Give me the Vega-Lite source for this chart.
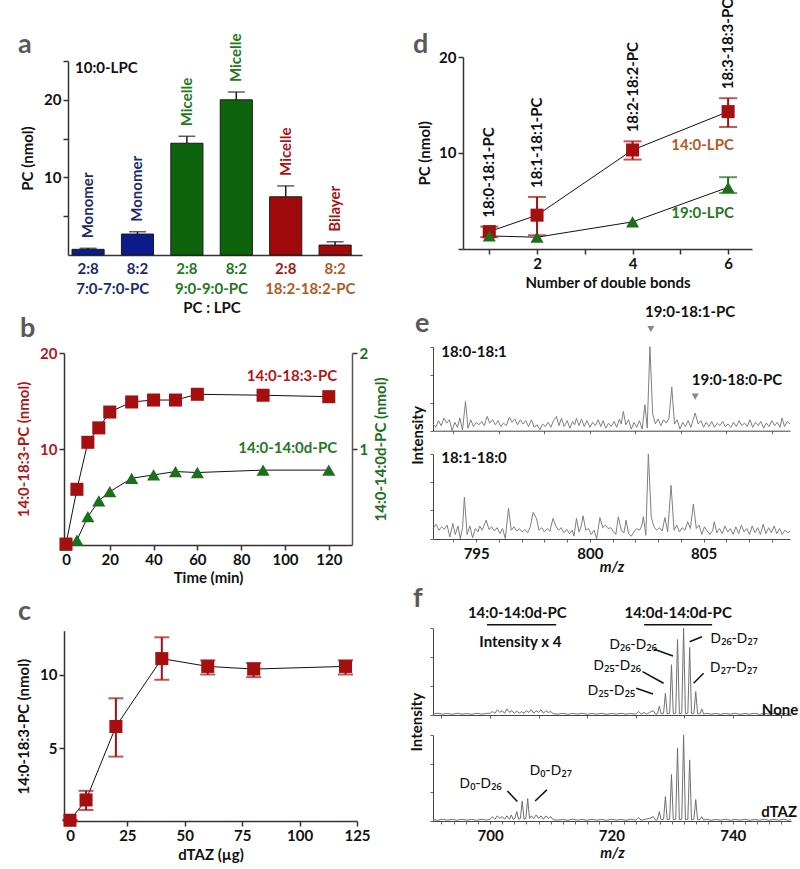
{
"$schema": "https://vega.github.io/schema/vega-lite/v6.json",
"autosize": {"type": "none"},
"padding": {"left": 64, "top": 55, "right": 736, "bottom": 814},
"config": {
 "font": "Lato",
 "view": {"stroke": null},
 "axis": {"labelFont": "Lato", "titleFont": "Lato", "labelFontWeight": "bold", "titleFontWeight": "bold", "labelFontSize": 15, "titleFontSize": 15, "labelColor": "#111", "titleColor": "#111", "domainColor": "#333", "tickColor": "#333", "domainWidth": 1.5, "tickWidth": 1.5, "tickSize": 5, "grid": false, "labelFlush": false, "labelOverlap": false, "labelPadding": 2, "titlePadding": 5},
 "text": {"font": "Lato", "fontWeight": "bold", "fontSize": 15}
},
"columns": 2,
"bounds": "flush",
"align": "each",
"spacing": {"row": 82, "column": 71},
"resolve": {"scale": {"color": "independent", "fill": "independent", "shape": "independent"}},
"datasets": {
 "one": [{}],
 "a": [
  {"bar": "b1", "grp": "7:0-7:0-PC", "pc": 0.73, "hi": 0.86, "state": "Monomer"},
  {"bar": "b2", "grp": "7:0-7:0-PC", "pc": 2.7, "hi": 3.0, "state": "Monomer"},
  {"bar": "b3", "grp": "9:0-9:0-PC", "pc": 14.4, "hi": 15.3, "state": "Micelle"},
  {"bar": "b4", "grp": "9:0-9:0-PC", "pc": 20.0, "hi": 21.0, "state": "Micelle"},
  {"bar": "b5", "grp": "18:2-18:2-PC", "pc": 7.5, "hi": 8.9, "state": "Micelle"},
  {"bar": "b6", "grp": "18:2-18:2-PC", "pc": 1.28, "hi": 1.7, "state": "Bilayer"}
 ],
 "d": [
  {"n": 1, "series": "14:0-LPC", "pc": 1.78, "lo": 1.2, "hi": 2.3, "lipid": "18:0-18:1-PC"},
  {"n": 2, "series": "14:0-LPC", "pc": 3.5, "lo": 1.4, "hi": 5.4, "lipid": "18:1-18:1-PC"},
  {"n": 4, "series": "14:0-LPC", "pc": 10.3, "lo": 9.3, "hi": 11.2, "lipid": "18:2-18:2-PC"},
  {"n": 6, "series": "14:0-LPC", "pc": 14.3, "lo": 12.7, "hi": 15.7, "lipid": "18:3-18:3-PC"},
  {"n": 1, "series": "19:0-LPC", "pc": 1.33, "lo": 1.33, "hi": 1.33, "lipid": ""},
  {"n": 2, "series": "19:0-LPC", "pc": 1.2, "lo": 1.2, "hi": 1.2, "lipid": ""},
  {"n": 4, "series": "19:0-LPC", "pc": 2.8, "lo": 2.8, "hi": 2.8, "lipid": ""},
  {"n": 6, "series": "19:0-LPC", "pc": 6.4, "lo": 5.8, "hi": 7.46, "lipid": ""}
 ],
 "br": [
  {"t": 0, "v": 0.1}, {"t": 5, "v": 5.8}, {"t": 10, "v": 10.7}, {"t": 15, "v": 12.2}, {"t": 20, "v": 13.85}, {"t": 30, "v": 14.9},
  {"t": 40, "v": 15.1}, {"t": 50, "v": 15.1}, {"t": 60, "v": 15.7}, {"t": 90, "v": 15.6}, {"t": 120, "v": 15.45}
 ],
 "bg": [
  {"t": 0, "v": 0}, {"t": 5, "v": 0.05}, {"t": 10, "v": 0.295}, {"t": 15, "v": 0.46}, {"t": 20, "v": 0.555}, {"t": 30, "v": 0.695},
  {"t": 40, "v": 0.73}, {"t": 50, "v": 0.765}, {"t": 60, "v": 0.755}, {"t": 90, "v": 0.78}, {"t": 120, "v": 0.78}
 ],
 "c": [
  {"x": 0, "v": 0.1, "lo": 0.1, "hi": 0.1},
  {"x": 7, "v": 1.48, "lo": 0.8, "hi": 2.1},
  {"x": 20, "v": 6.48, "lo": 4.43, "hi": 8.4},
  {"x": 40, "v": 11.1, "lo": 9.66, "hi": 12.55},
  {"x": 60, "v": 10.57, "lo": 10.02, "hi": 10.98},
  {"x": 80, "v": 10.39, "lo": 9.84, "hi": 10.8},
  {"x": 120, "v": 10.57, "lo": 10.02, "hi": 10.98}
 ],
 "eT": [
  {"m":793.10,"i":0.08},{"m":793.22,"i":0.04},{"m":793.34,"i":0.12},{"m":793.46,"i":0.06},{"m":793.58,"i":0.15},{"m":793.70,"i":0.09},
  {"m":793.82,"i":0.13},{"m":793.94,"i":0.00},{"m":794.06,"i":0.10},{"m":794.18,"i":0.04},{"m":794.28,"i":0.15},{"m":794.40,"i":0.01},
  {"m":794.53,"i":0.35},{"m":794.64,"i":0.03},{"m":794.76,"i":0.13},{"m":794.88,"i":0.05},{"m":795.00,"i":0.10},{"m":795.12,"i":0.07},
  {"m":795.24,"i":0.11},{"m":795.36,"i":0.06},{"m":795.48,"i":0.17},{"m":795.60,"i":0.09},{"m":795.72,"i":0.13},{"m":795.84,"i":0.07},
  {"m":795.96,"i":0.12},{"m":796.08,"i":0.05},{"m":796.20,"i":0.09},{"m":796.32,"i":0.06},{"m":796.46,"i":0.16},{"m":796.58,"i":0.10},
  {"m":796.70,"i":0.14},{"m":796.82,"i":0.07},{"m":796.94,"i":0.13},{"m":797.06,"i":0.08},{"m":797.18,"i":0.12},{"m":797.30,"i":0.05},
  {"m":797.43,"i":0.13},{"m":797.55,"i":0.04},{"m":797.68,"i":0.07},{"m":797.80,"i":0.01},{"m":797.92,"i":0.08},{"m":798.04,"i":0.05},
  {"m":798.16,"i":0.10},{"m":798.28,"i":0.04},{"m":798.40,"i":0.12},{"m":798.53,"i":0.17},{"m":798.64,"i":0.06},{"m":798.75,"i":0.15},
  {"m":798.87,"i":0.05},{"m":799.00,"i":0.12},{"m":799.12,"i":0.03},{"m":799.24,"i":0.11},{"m":799.33,"i":0.07},{"m":799.41,"i":0.15},
  {"m":799.52,"i":0.06},{"m":799.63,"i":0.14},{"m":799.75,"i":0.05},{"m":799.87,"i":0.12},{"m":800.00,"i":0.04},{"m":800.12,"i":0.10},
  {"m":800.24,"i":0.06},{"m":800.36,"i":0.13},{"m":800.48,"i":0.05},{"m":800.58,"i":0.12},{"m":800.70,"i":0.03},{"m":800.82,"i":0.09},
  {"m":800.94,"i":0.05},{"m":801.06,"i":0.11},{"m":801.18,"i":0.04},{"m":801.30,"i":0.14},{"m":801.38,"i":0.08},{"m":801.47,"i":0.23},
  {"m":801.58,"i":0.07},{"m":801.70,"i":0.13},{"m":801.82,"i":0.02},{"m":801.94,"i":0.10},{"m":802.06,"i":0.04},{"m":802.18,"i":0.12},
  {"m":802.30,"i":0.02},{"m":802.42,"i":0.31},{"m":802.52,"i":0.03},{"m":802.64,"i":1.00},{"m":802.76,"i":0.20},{"m":802.88,"i":0.08},
  {"m":803.00,"i":0.14},{"m":803.12,"i":0.06},{"m":803.24,"i":0.13},{"m":803.36,"i":0.09},{"m":803.48,"i":0.15},{"m":803.60,"i":0.52},
  {"m":803.72,"i":0.08},{"m":803.84,"i":0.13},{"m":803.96,"i":0.02},{"m":804.08,"i":0.10},{"m":804.20,"i":0.05},{"m":804.32,"i":0.12},
  {"m":804.44,"i":0.04},{"m":804.63,"i":0.21},{"m":804.76,"i":0.08},{"m":804.88,"i":0.12},{"m":805.00,"i":0.04},{"m":805.12,"i":0.10},
  {"m":805.24,"i":0.05},{"m":805.36,"i":0.11},{"m":805.48,"i":0.04},{"m":805.60,"i":0.09},{"m":805.72,"i":0.06},{"m":805.84,"i":0.11},
  {"m":805.96,"i":0.05},{"m":806.08,"i":0.08},{"m":806.20,"i":0.04},{"m":806.32,"i":0.10},{"m":806.44,"i":0.05},{"m":806.56,"i":0.12},
  {"m":806.68,"i":0.06},{"m":806.80,"i":0.09},{"m":806.92,"i":0.05},{"m":807.04,"i":0.13},{"m":807.16,"i":0.04},{"m":807.28,"i":0.10},
  {"m":807.40,"i":0.06},{"m":807.52,"i":0.11},{"m":807.64,"i":0.03},{"m":807.76,"i":0.09},{"m":807.88,"i":0.05},{"m":808.00,"i":0.12},
  {"m":808.12,"i":0.06},{"m":808.24,"i":0.10},{"m":808.36,"i":0.04},{"m":808.45,"i":0.15},{"m":808.56,"i":0.05},{"m":808.68,"i":0.11},
  {"m":808.80,"i":0.08}
 ],
 "eB": [
  {"m":793.10,"i":0.12},{"m":793.24,"i":0.17},{"m":793.36,"i":0.10},{"m":793.48,"i":0.14},{"m":793.60,"i":0.11},{"m":793.72,"i":0.16},
  {"m":793.84,"i":0.02},{"m":793.97,"i":0.18},{"m":794.08,"i":0.05},{"m":794.20,"i":0.15},{"m":794.30,"i":0.00},{"m":794.40,"i":0.13},
  {"m":794.48,"i":0.49},{"m":794.60,"i":0.05},{"m":794.72,"i":0.15},{"m":794.84,"i":0.01},{"m":794.96,"i":0.12},{"m":795.08,"i":0.08},
  {"m":795.15,"i":0.15},{"m":795.26,"i":0.10},{"m":795.44,"i":0.22},{"m":795.56,"i":0.11},{"m":795.68,"i":0.14},{"m":795.80,"i":0.09},
  {"m":795.92,"i":0.13},{"m":796.04,"i":0.06},{"m":796.16,"i":0.12},{"m":796.28,"i":0.00},{"m":796.42,"i":0.36},{"m":796.54,"i":0.10},
  {"m":796.66,"i":0.14},{"m":796.78,"i":0.09},{"m":796.90,"i":0.12},{"m":797.02,"i":0.08},{"m":797.14,"i":0.11},{"m":797.26,"i":0.07},
  {"m":797.38,"i":0.14},{"m":797.50,"i":0.31},{"m":797.65,"i":0.24},{"m":797.76,"i":0.10},{"m":797.88,"i":0.13},{"m":798.00,"i":0.08},
  {"m":798.12,"i":0.12},{"m":798.24,"i":0.09},{"m":798.38,"i":0.24},{"m":798.50,"i":0.15},{"m":798.62,"i":0.10},{"m":798.74,"i":0.13},
  {"m":798.86,"i":0.07},{"m":798.98,"i":0.11},{"m":799.10,"i":0.06},{"m":799.22,"i":0.10},{"m":799.30,"i":0.03},{"m":799.41,"i":0.24},
  {"m":799.52,"i":0.08},{"m":799.62,"i":0.15},{"m":799.70,"i":0.27},{"m":799.82,"i":0.10},{"m":799.94,"i":0.12},{"m":800.06,"i":0.05},
  {"m":800.18,"i":0.10},{"m":800.30,"i":0.00},{"m":800.44,"i":0.25},{"m":800.56,"i":0.13},{"m":800.68,"i":0.16},{"m":800.80,"i":0.12},
  {"m":800.92,"i":0.13},{"m":801.04,"i":0.08},{"m":801.14,"i":0.05},{"m":801.25,"i":0.26},{"m":801.38,"i":0.10},{"m":801.50,"i":0.07},
  {"m":801.59,"i":0.22},{"m":801.70,"i":0.06},{"m":801.82,"i":0.03},{"m":801.94,"i":0.08},{"m":802.06,"i":0.12},{"m":802.18,"i":0.10},
  {"m":802.28,"i":0.15},{"m":802.35,"i":0.26},{"m":802.46,"i":0.04},{"m":802.57,"i":1.00},{"m":802.70,"i":0.25},{"m":802.82,"i":0.14},
  {"m":802.94,"i":0.10},{"m":803.06,"i":0.13},{"m":803.18,"i":0.09},{"m":803.30,"i":0.25},{"m":803.42,"i":0.08},{"m":803.57,"i":0.63},
  {"m":803.70,"i":0.10},{"m":803.82,"i":0.16},{"m":803.94,"i":0.08},{"m":804.06,"i":0.13},{"m":804.18,"i":0.10},{"m":804.30,"i":0.20},
  {"m":804.42,"i":0.12},{"m":804.55,"i":0.41},{"m":804.68,"i":0.12},{"m":804.80,"i":0.16},{"m":804.92,"i":0.05},{"m":805.04,"i":0.14},
  {"m":805.16,"i":0.09},{"m":805.28,"i":0.05},{"m":805.40,"i":0.10},{"m":805.47,"i":0.20},{"m":805.58,"i":0.07},{"m":805.70,"i":0.12},
  {"m":805.82,"i":0.06},{"m":805.94,"i":0.15},{"m":806.06,"i":0.08},{"m":806.18,"i":0.12},{"m":806.30,"i":0.05},{"m":806.42,"i":0.14},
  {"m":806.54,"i":0.06},{"m":806.66,"i":0.16},{"m":806.78,"i":0.08},{"m":806.90,"i":0.12},{"m":807.02,"i":0.05},{"m":807.14,"i":0.15},
  {"m":807.26,"i":0.07},{"m":807.38,"i":0.13},{"m":807.50,"i":0.05},{"m":807.62,"i":0.17},{"m":807.74,"i":0.06},{"m":807.86,"i":0.13},
  {"m":807.98,"i":0.07},{"m":808.10,"i":0.15},{"m":808.22,"i":0.06},{"m":808.34,"i":0.12},{"m":808.46,"i":0.05},{"m":808.58,"i":0.10},
  {"m":808.70,"i":0.07},{"m":808.80,"i":0.09}
 ],
 "fT": [
  {"m":690.6,"i":0.012},{"m":691.4,"i":0.02},{"m":692.2,"i":0.01},{"m":693.0,"i":0.018},{"m":693.8,"i":0.008},{"m":694.6,"i":0.02},
  {"m":695.4,"i":0.01},{"m":696.2,"i":0.016},{"m":697.0,"i":0.008},{"m":697.8,"i":0.02},{"m":698.6,"i":0.01},{"m":699.4,"i":0.018},
  {"m":700.0,"i":0.02},{"m":700.4,"i":0.04},{"m":700.8,"i":0.02},{"m":701.2,"i":0.06},{"m":701.6,"i":0.03},{"m":702.0,"i":0.05},
  {"m":702.4,"i":0.02},{"m":702.8,"i":0.07},{"m":703.2,"i":0.03},{"m":703.6,"i":0.05},{"m":704.0,"i":0.02},{"m":704.4,"i":0.045},
  {"m":704.8,"i":0.02},{"m":705.2,"i":0.04},{"m":705.6,"i":0.02},{"m":706.0,"i":0.05},{"m":706.4,"i":0.03},{"m":706.8,"i":0.06},
  {"m":707.2,"i":0.02},{"m":707.6,"i":0.05},{"m":708.0,"i":0.03},{"m":708.4,"i":0.06},{"m":708.8,"i":0.02},{"m":709.2,"i":0.05},
  {"m":709.6,"i":0.03},{"m":710.0,"i":0.04},{"m":710.4,"i":0.015},{"m":711.2,"i":0.01},{"m":712.0,"i":0.02},{"m":712.8,"i":0.008},
  {"m":713.6,"i":0.018},{"m":714.4,"i":0.01},{"m":715.2,"i":0.02},{"m":716.0,"i":0.008},{"m":716.8,"i":0.018},{"m":717.6,"i":0.01},
  {"m":718.4,"i":0.02},{"m":719.2,"i":0.008},{"m":720.0,"i":0.018},{"m":720.8,"i":0.01},{"m":721.6,"i":0.02},{"m":722.4,"i":0.01},
  {"m":723.2,"i":0.018},{"m":724.0,"i":0.01},{"m":724.5,"i":0.04},{"m":724.9,"i":0.01},{"m":725.4,"i":0.03},{"m":725.8,"i":0.01},
  {"m":726.3,"i":0.03},{"m":726.9,"i":0.05},{"m":727.3,"i":0.01},{"m":727.6,"i":0.015},{"m":727.9,"i":0.10},{"m":728.2,"i":0.015},
  {"m":728.6,"i":0.02},{"m":728.9,"i":0.25},{"m":729.2,"i":0.015},{"m":729.6,"i":0.02},{"m":729.9,"i":0.58},{"m":730.2,"i":0.015},
  {"m":730.6,"i":0.02},{"m":730.9,"i":0.87},{"m":731.2,"i":0.015},{"m":731.6,"i":0.02},{"m":731.9,"i":1.0},{"m":732.2,"i":0.015},
  {"m":732.6,"i":0.02},{"m":732.9,"i":0.78},{"m":733.2,"i":0.015},{"m":733.6,"i":0.02},{"m":733.9,"i":0.27},{"m":734.2,"i":0.015},
  {"m":734.6,"i":0.015},{"m":734.9,"i":0.07},{"m":735.2,"i":0.01},{"m":735.7,"i":0.02},{"m":736.4,"i":0.01},{"m":737.2,"i":0.018},
  {"m":738.0,"i":0.008},{"m":738.8,"i":0.018},{"m":739.6,"i":0.01},{"m":740.4,"i":0.02},{"m":741.2,"i":0.008},{"m":742.0,"i":0.018},
  {"m":742.8,"i":0.01},{"m":743.6,"i":0.02},{"m":744.4,"i":0.008},{"m":745.2,"i":0.018},{"m":746.0,"i":0.01},{"m":746.8,"i":0.02},
  {"m":747.6,"i":0.008},{"m":748.4,"i":0.018},{"m":749.2,"i":0.01},{"m":749.6,"i":0.015}
 ],
 "fB": [
  {"m":690.6,"i":0.015},{"m":691.4,"i":0.008},{"m":692.2,"i":0.02},{"m":693.0,"i":0.01},{"m":693.8,"i":0.018},{"m":694.6,"i":0.008},
  {"m":695.4,"i":0.02},{"m":696.2,"i":0.01},{"m":697.0,"i":0.018},{"m":697.8,"i":0.008},{"m":698.6,"i":0.02},{"m":699.4,"i":0.01},
  {"m":700.0,"i":0.02},{"m":700.4,"i":0.05},{"m":700.8,"i":0.02},{"m":701.2,"i":0.06},{"m":701.6,"i":0.03},{"m":702.0,"i":0.05},
  {"m":702.4,"i":0.02},{"m":702.8,"i":0.06},{"m":703.2,"i":0.02},{"m":703.5,"i":0.07},{"m":703.8,"i":0.02},{"m":704.1,"i":0.03},
  {"m":704.4,"i":0.11},{"m":704.7,"i":0.02},{"m":705.0,"i":0.03},{"m":705.3,"i":0.23},{"m":705.6,"i":0.02},{"m":705.9,"i":0.03},
  {"m":706.2,"i":0.26},{"m":706.5,"i":0.03},{"m":706.8,"i":0.06},{"m":707.2,"i":0.03},{"m":707.6,"i":0.07},{"m":708.0,"i":0.03},
  {"m":708.4,"i":0.06},{"m":708.8,"i":0.02},{"m":709.2,"i":0.06},{"m":709.6,"i":0.03},{"m":710.0,"i":0.05},{"m":710.4,"i":0.015},
  {"m":711.2,"i":0.01},{"m":712.0,"i":0.018},{"m":712.8,"i":0.008},{"m":713.6,"i":0.02},{"m":714.4,"i":0.01},{"m":715.2,"i":0.018},
  {"m":716.0,"i":0.008},{"m":716.8,"i":0.02},{"m":717.6,"i":0.01},{"m":718.4,"i":0.018},{"m":719.2,"i":0.008},{"m":720.0,"i":0.02},
  {"m":720.8,"i":0.01},{"m":721.6,"i":0.018},{"m":722.4,"i":0.008},{"m":723.2,"i":0.02},{"m":724.0,"i":0.01},{"m":724.5,"i":0.04},
  {"m":724.9,"i":0.01},{"m":725.6,"i":0.02},{"m":726.3,"i":0.03},{"m":726.9,"i":0.05},{"m":727.3,"i":0.01},{"m":727.6,"i":0.015},
  {"m":727.9,"i":0.11},{"m":728.2,"i":0.015},{"m":728.6,"i":0.02},{"m":728.9,"i":0.285},{"m":729.2,"i":0.015},{"m":729.6,"i":0.02},
  {"m":729.9,"i":0.54},{"m":730.2,"i":0.015},{"m":730.6,"i":0.02},{"m":730.9,"i":0.85},{"m":731.2,"i":0.015},{"m":731.6,"i":0.02},
  {"m":731.9,"i":1.0},{"m":732.2,"i":0.015},{"m":732.6,"i":0.02},{"m":732.9,"i":0.71},{"m":733.2,"i":0.015},{"m":733.6,"i":0.02},
  {"m":733.9,"i":0.25},{"m":734.2,"i":0.015},{"m":734.6,"i":0.015},{"m":734.9,"i":0.05},{"m":735.2,"i":0.01},{"m":735.7,"i":0.02},
  {"m":736.4,"i":0.008},{"m":737.2,"i":0.018},{"m":738.0,"i":0.01},{"m":738.8,"i":0.02},{"m":739.6,"i":0.008},{"m":740.4,"i":0.018},
  {"m":741.2,"i":0.01},{"m":742.0,"i":0.02},{"m":742.8,"i":0.008},{"m":743.6,"i":0.018},{"m":744.4,"i":0.01},{"m":745.2,"i":0.02},
  {"m":746.0,"i":0.008},{"m":746.8,"i":0.018},{"m":747.6,"i":0.01},{"m":748.4,"i":0.02},{"m":749.2,"i":0.008},{"m":749.6,"i":0.015}
 ]
},
"concat": [
 {
  "width": 298, "height": 200,
  "layer": [
   {
    "layer": [
     {"data": {"name": "a"},
      "mark": {"type": "bar", "stroke": "#1a1a1a", "strokeWidth": 1},
      "encoding": {
       "x": {"field": "bar", "type": "nominal", "scale": {"range": [4, 298], "paddingInner": 0.35, "paddingOuter": 0.15, "align": 0.27},
             "axis": {"title": null, "ticks": false, "domainWidth": 1.5, "labelAngle": 0, "labelPadding": 6,
                      "labelExpr": "indexof(['b1','b3','b5'], datum.value) >= 0 ? '2:8' : '8:2'",
                      "labelColor": {"condition": [{"test": "datum.value == 'b1' || datum.value == 'b2'", "value": "#1c2c6b"}, {"test": "datum.value == 'b3' || datum.value == 'b4'", "value": "#24781e"}, {"test": "datum.value == 'b5'", "value": "#a81515"}], "value": "#b35a1f"}}},
       "y": {"field": "pc", "type": "quantitative", "scale": {"domain": [0, 25], "range": [200, 6], "nice": false},
             "axis": {"title": "PC (nmol)", "values": [5, 10, 15, 20, 25], "labelExpr": "datum.value == 10 || datum.value == 20 ? datum.label : ''", "offset": -4, "titlePadding": 8}},
       "color": {"field": "grp", "type": "nominal", "scale": {"domain": ["7:0-7:0-PC", "9:0-9:0-PC", "18:2-18:2-PC"], "range": ["#0b1b8c", "#0d640d", "#a00a0a"]}, "legend": null}
      }},
     {"data": {"name": "a"},
      "mark": {"type": "rule", "strokeWidth": 1.5, "color": "#1a1a1a"},
      "encoding": {"x": {"field": "bar", "type": "nominal"}, "y": {"field": "pc", "type": "quantitative"}, "y2": {"field": "hi"}}},
     {"data": {"name": "a"},
      "mark": {"type": "tick", "orient": "horizontal", "size": 17, "thickness": 1.5, "color": "#1a1a1a"},
      "encoding": {"x": {"field": "bar", "type": "nominal"}, "y": {"field": "hi", "type": "quantitative"}}},
     {"data": {"name": "a"},
      "mark": {"type": "text", "angle": 270, "align": "left", "baseline": "middle", "dx": 10, "fontSize": 15},
      "encoding": {"x": {"field": "bar", "type": "nominal"}, "y": {"field": "hi", "type": "quantitative"}, "text": {"field": "state"},
                   "fill": {"field": "grp", "type": "nominal", "scale": {"domain": ["7:0-7:0-PC", "9:0-9:0-PC", "18:2-18:2-PC"], "range": ["#1c2c6b", "#24781e", "#a81515"]}, "legend": null}}},
     {"data": {"name": "one"},
      "mark": {"type": "text", "align": "left", "baseline": "middle", "dx": -13, "fontSize": 15, "color": "#111"},
      "encoding": {"x": {"datum": "b1"}, "y": {"datum": 24.1}, "text": {"value": "10:0-LPC"}}},
     {"data": {"name": "one"},
      "mark": {"type": "text", "align": "left", "baseline": "alphabetic", "dx": -70, "dy": -8, "fontSize": 27, "color": "#595959"},
      "encoding": {"x": {"datum": "b1"}, "y": {"datum": 25}, "text": {"value": "a"}}}
    ]
   },
   {
    "data": {"name": "a"},
    "mark": {"type": "bar", "opacity": 0},
    "encoding": {
     "x": {"field": "grp", "type": "nominal", "sort": null, "scale": {"range": [-0.7, 295.7], "paddingInner": 0, "paddingOuter": 0},
           "axis": {"orient": "bottom", "offset": 22, "domain": false, "ticks": false, "labelAngle": 0, "labelPadding": 4, "title": "PC : LPC", "titlePadding": 4,
                    "labelColor": {"condition": [{"test": "datum.value == '7:0-7:0-PC'", "value": "#1c2c6b"}, {"test": "datum.value == '9:0-9:0-PC'", "value": "#24781e"}], "value": "#b35a1f"}}}
    }
   }
  ],
  "resolve": {"scale": {"x": "independent"}}
 },
 {
  "width": 319, "height": 194,
  "layer": [
   {"data": {"name": "d"},
    "mark": {"type": "line", "color": "#111", "strokeWidth": 1},
    "encoding": {
     "x": {"field": "n", "type": "quantitative", "scale": {"domain": [0.45, 6.5], "range": [30, 319], "nice": false, "zero": false},
           "axis": {"values": [1, 2, 3, 4, 5, 6], "labelExpr": "datum.value % 2 == 0 ? datum.label : ''", "title": "Number of double bonds", "titlePadding": 4}},
     "y": {"field": "pc", "type": "quantitative", "scale": {"domain": [0, 20], "range": [193.7, 2], "nice": false},
           "axis": {"values": [0, 10, 20], "labelExpr": "datum.value > 0 ? datum.label : ''", "offset": -30, "title": "PC (nmol)", "titlePadding": 6}},
     "detail": {"field": "series"}
    }},
   {"data": {"name": "d"},
    "transform": [{"filter": "datum.hi > datum.pc"}],
    "mark": {"type": "rule", "strokeWidth": 2},
    "encoding": {"x": {"field": "n", "type": "quantitative"}, "y": {"field": "lo", "type": "quantitative"}, "y2": {"field": "hi"},
                 "color": {"field": "series", "type": "nominal", "scale": {"domain": ["14:0-LPC", "19:0-LPC"], "range": ["#a50f0f", "#1d6e1d"]}, "legend": null}}},
   {"data": {"name": "d"},
    "transform": [{"filter": "datum.hi > datum.pc"}],
    "mark": {"type": "tick", "orient": "horizontal", "size": 18, "thickness": 2},
    "encoding": {"x": {"field": "n", "type": "quantitative"}, "y": {"field": "hi", "type": "quantitative"},
                 "color": {"field": "series", "type": "nominal", "scale": {"domain": ["14:0-LPC", "19:0-LPC"], "range": ["#a50f0f", "#1d6e1d"]}, "legend": null}}},
   {"data": {"name": "d"},
    "transform": [{"filter": "datum.hi > datum.pc"}],
    "mark": {"type": "tick", "orient": "horizontal", "size": 18, "thickness": 2},
    "encoding": {"x": {"field": "n", "type": "quantitative"}, "y": {"field": "lo", "type": "quantitative"},
                 "color": {"field": "series", "type": "nominal", "scale": {"domain": ["14:0-LPC", "19:0-LPC"], "range": ["#a50f0f", "#1d6e1d"]}, "legend": null}}},
   {"data": {"name": "d"},
    "mark": {"type": "point", "filled": true, "opacity": 1, "size": 170},
    "encoding": {"x": {"field": "n", "type": "quantitative"}, "y": {"field": "pc", "type": "quantitative"},
                 "color": {"field": "series", "type": "nominal", "scale": {"domain": ["14:0-LPC", "19:0-LPC"], "range": ["#a50f0f", "#1d6e1d"]}, "legend": null},
                 "shape": {"field": "series", "type": "nominal", "scale": {"domain": ["14:0-LPC", "19:0-LPC"], "range": ["square", "triangle-up"]}, "legend": null}}},
   {"data": {"name": "d"},
    "transform": [{"filter": "datum.series == '14:0-LPC'"}],
    "mark": {"type": "text", "angle": 270, "align": "left", "baseline": "middle", "dx": 9, "fontSize": 15, "color": "#111"},
    "encoding": {"x": {"field": "n", "type": "quantitative"}, "y": {"field": "hi", "type": "quantitative"}, "text": {"field": "lipid"}}},
   {"data": {"name": "one"},
    "mark": {"type": "text", "align": "right", "baseline": "middle", "fontSize": 15, "color": "#b35a1f"},
    "encoding": {"x": {"datum": 6.12}, "y": {"datum": 10.84}, "text": {"value": "14:0-LPC"}}},
   {"data": {"name": "one"},
    "mark": {"type": "text", "align": "right", "baseline": "middle", "fontSize": 15, "color": "#24781e"},
    "encoding": {"x": {"datum": 6.12}, "y": {"datum": 3.73}, "text": {"value": "19:0-LPC"}}},
   {"data": {"name": "one"},
    "mark": {"type": "text", "align": "left", "baseline": "alphabetic", "dx": -50, "dy": -4, "fontSize": 27, "color": "#595959"},
    "encoding": {"x": {"datum": 0.45}, "y": {"datum": 20}, "text": {"value": "d"}}}
  ]
 },
 {
  "width": 288, "height": 208,
  "layer": [
   {
    "layer": [
     {"data": {"name": "bg"},
      "mark": {"type": "line", "color": "#111", "strokeWidth": 1},
      "encoding": {
       "x": {"field": "t", "type": "quantitative", "scale": {"domain": [-0.9, 130.6], "nice": false, "zero": false},
             "axis": {"values": [0, 20, 40, 60, 80, 100, 120], "title": "Time (min)", "titlePadding": 3}},
       "y": {"field": "v", "type": "quantitative", "scale": {"domain": [0, 2], "range": [208, 16], "nice": false},
             "axis": {"orient": "right", "values": [1, 2], "format": "d", "title": "14:0-14:0d-PC (nmol)", "titleAngle": 270, "titleBaseline": "top", "labelColor": "#1d6e1d", "titleColor": "#1d6e1d", "domainColor": "#555", "titlePadding": 6}}
      }},
     {"data": {"name": "bg"},
      "mark": {"type": "point", "shape": "triangle-up", "filled": true, "size": 170, "color": "#1d6e1d", "opacity": 1},
      "encoding": {"x": {"field": "t", "type": "quantitative"}, "y": {"field": "v", "type": "quantitative"}}},
     {"data": {"name": "one"},
      "mark": {"type": "text", "align": "right", "baseline": "middle", "fontSize": 15, "color": "#24781e"},
      "encoding": {"x": {"datum": 123.8}, "y": {"datum": 1.01}, "text": {"value": "14:0-14:0d-PC"}}}
    ]
   },
   {
    "layer": [
     {"data": {"name": "br"},
      "mark": {"type": "line", "color": "#111", "strokeWidth": 1},
      "encoding": {
       "x": {"field": "t", "type": "quantitative"},
       "y": {"field": "v", "type": "quantitative", "scale": {"domain": [0, 20], "range": [208, 16], "nice": false},
             "axis": {"orient": "left", "values": [10, 20], "title": "14:0-18:3-PC (nmol)", "labelColor": "#b01818", "titleColor": "#b01818", "titlePadding": 8}}
      }},
     {"data": {"name": "br"},
      "mark": {"type": "point", "shape": "square", "filled": true, "size": 170, "color": "#a50f0f", "opacity": 1},
      "encoding": {"x": {"field": "t", "type": "quantitative"}, "y": {"field": "v", "type": "quantitative"}}},
     {"data": {"name": "one"},
      "mark": {"type": "text", "align": "right", "baseline": "middle", "fontSize": 15, "color": "#b01818"},
      "encoding": {"x": {"datum": 123.8}, "y": {"datum": 17.6}, "text": {"value": "14:0-18:3-PC"}}},
     {"data": {"name": "one"},
      "mark": {"type": "text", "align": "left", "baseline": "alphabetic", "dx": -44, "dy": -16, "fontSize": 27, "color": "#595959"},
      "encoding": {"x": {"datum": -0.9}, "y": {"datum": 20}, "text": {"value": "b"}}}
    ]
   }
  ],
  "resolve": {"scale": {"y": "independent"}, "axis": {"y": "independent"}}
 },
 {
  "width": 357, "height": 202,
  "layer": [
   {
    "layer": [
     {"data": {"name": "eT"},
      "mark": {"type": "line", "color": "#808080", "strokeWidth": 1},
      "encoding": {
       "x": {"field": "m", "type": "quantitative", "scale": {"domain": [793.1, 808.8], "nice": false, "zero": false},
             "axis": {"orient": "bottom", "offset": -108.3, "labels": false, "title": null, "values": [794, 795, 796, 797, 798, 799, 800, 801, 802, 803, 804, 805, 806, 807, 808], "tickSize": 3, "tickWidth": 1, "domainWidth": 1, "domainColor": "#444", "tickColor": "#666"}},
       "y": {"field": "i", "type": "quantitative", "scale": {"domain": [0, 1], "range": [93.7, 9.7], "nice": false},
             "axis": {"orient": "left", "labels": false, "title": null, "values": [0, 0.167, 0.333, 0.5, 0.667, 0.833, 1], "tickSize": 3, "tickWidth": 1, "domainWidth": 1, "domainColor": "#444", "tickColor": "#666"}}
      }},
     {"data": {"name": "one"},
      "mark": {"type": "text", "align": "left", "baseline": "middle", "fontSize": 15, "color": "#111"},
      "encoding": {"x": {"datum": 802.42}, "y": {"datum": 1.41}, "text": {"value": "19:0-18:1-PC"}}},
     {"data": {"name": "one"},
      "mark": {"type": "text", "align": "left", "baseline": "middle", "fontSize": 15, "color": "#111"},
      "encoding": {"x": {"datum": 804.48}, "y": {"datum": 0.6}, "text": {"value": "19:0-18:0-PC"}}},
     {"data": {"name": "one"},
      "mark": {"type": "text", "align": "left", "baseline": "middle", "fontSize": 15, "color": "#111"},
      "encoding": {"x": {"datum": 793.46}, "y": {"datum": 0.94}, "text": {"value": "18:0-18:1"}}},
     {"data": {"name": "one"},
      "mark": {"type": "point", "shape": "triangle-down", "filled": true, "size": 50, "color": "#888", "opacity": 1},
      "encoding": {"x": {"datum": 802.68}, "y": {"datum": 1.21}}},
     {"data": {"name": "one"},
      "mark": {"type": "point", "shape": "triangle-down", "filled": true, "size": 50, "color": "#888", "opacity": 1},
      "encoding": {"x": {"datum": 804.63}, "y": {"datum": 0.405}}},
     {"data": {"name": "one"},
      "mark": {"type": "text", "align": "left", "baseline": "alphabetic", "dx": -18, "dy": -14.7, "fontSize": 27, "color": "#595959"},
      "encoding": {"x": {"datum": 793.1}, "y": {"datum": 1}, "text": {"value": "e"}}}
    ]
   },
   {
    "layer": [
     {"data": {"name": "eB"},
      "mark": {"type": "line", "color": "#808080", "strokeWidth": 1},
      "encoding": {
       "x": {"field": "m", "type": "quantitative", "scale": {"domain": [793.1, 808.8], "nice": false, "zero": false},
             "axis": {"orient": "bottom", "values": [795, 800, 805], "title": "m/z", "titleFontStyle": "italic", "titlePadding": -2, "labelPadding": 4, "tickSize": 3, "tickWidth": 1, "domainWidth": 1, "domainColor": "#444", "tickColor": "#666"}},
       "y": {"field": "i", "type": "quantitative", "scale": {"domain": [0, 1], "range": [201.7, 117], "nice": false},
             "axis": {"orient": "left", "labels": false, "title": "Intensity", "titleX": -8, "titleY": 98, "values": [0, 0.167, 0.333, 0.5, 0.667, 0.833, 1], "tickSize": 3, "tickWidth": 1, "domainWidth": 1, "domainColor": "#444", "tickColor": "#666"}}
      }},
     {"data": {"name": "one"},
      "mark": {"type": "text", "align": "left", "baseline": "middle", "fontSize": 15, "color": "#111"},
      "encoding": {"x": {"datum": 793.46}, "y": {"datum": 0.953}, "text": {"value": "18:1-18:0"}}}
    ]
   },
   {
    "data": {"name": "one"},
    "mark": {"type": "text", "text": ""},
    "encoding": {
     "x": {"datum": 800, "type": "quantitative",
           "axis": {"orient": "bottom", "values": [794, 796, 797, 798, 799, 801, 802, 803, 804, 806, 807, 808], "labels": false, "domain": false, "title": null, "tickSize": 3, "tickWidth": 1, "tickColor": "#666"}}
    }
   }
  ],
  "resolve": {"scale": {"y": "independent"}, "axis": {"x": "independent", "y": "independent"}}
 },
 {
  "width": 293, "height": 194,
  "layer": [
   {"data": {"name": "c"},
    "mark": {"type": "line", "color": "#111", "strokeWidth": 1},
    "encoding": {
     "x": {"field": "x", "type": "quantitative", "scale": {"domain": [-2.6, 125], "nice": false, "zero": false},
           "axis": {"values": [0, 25, 50, 75, 100, 125], "title": "dTAZ (µg)", "titlePadding": 4}},
     "y": {"field": "v", "type": "quantitative", "scale": {"domain": [0, 13], "range": [194.7, 3.7], "nice": false},
           "axis": {"values": [5, 10], "title": "14:0-18:3-PC (nmol)", "titlePadding": 8}}
    }},
   {"data": {"name": "c"},
    "mark": {"type": "rule", "strokeWidth": 2, "color": "#a50f0f"},
    "encoding": {"x": {"field": "x", "type": "quantitative"}, "y": {"field": "lo", "type": "quantitative"}, "y2": {"field": "hi"}}},
   {"data": {"name": "c"},
    "mark": {"type": "tick", "orient": "horizontal", "size": 15, "thickness": 2, "color": "#a50f0f"},
    "encoding": {"x": {"field": "x", "type": "quantitative"}, "y": {"field": "hi", "type": "quantitative"}}},
   {"data": {"name": "c"},
    "mark": {"type": "tick", "orient": "horizontal", "size": 15, "thickness": 2, "color": "#a50f0f"},
    "encoding": {"x": {"field": "x", "type": "quantitative"}, "y": {"field": "lo", "type": "quantitative"}}},
   {"data": {"name": "c"},
    "mark": {"type": "point", "shape": "square", "filled": true, "size": 170, "color": "#a50f0f", "opacity": 1},
    "encoding": {"x": {"field": "x", "type": "quantitative"}, "y": {"field": "v", "type": "quantitative"}}},
   {"data": {"name": "one"},
    "mark": {"type": "text", "align": "left", "baseline": "alphabetic", "dx": -46, "dy": -10.7, "fontSize": 27, "color": "#595959"},
    "encoding": {"x": {"datum": -2.6}, "y": {"datum": 13}, "text": {"value": "c"}}}
  ]
 },
 {
  "width": 358, "height": 194,
  "layer": [
   {
    "layer": [
     {"data": {"name": "fT"},
      "mark": {"type": "line", "color": "#707070", "strokeWidth": 1},
      "encoding": {
       "x": {"field": "m", "type": "quantitative", "scale": {"domain": [690.6, 749.6], "nice": false, "zero": false},
             "axis": {"orient": "bottom", "offset": -106, "labels": false, "title": null, "values": [692, 694, 696, 698, 700, 702, 704, 706, 708, 710, 712, 714, 716, 718, 720, 722, 724, 726, 728, 730, 732, 734, 736, 738, 740, 742, 744, 746, 748], "tickSize": 3, "tickWidth": 1, "domainWidth": 1, "domainColor": "#444", "tickColor": "#666"}},
       "y": {"field": "i", "type": "quantitative", "scale": {"domain": [0, 1], "range": [88, 1.3], "nice": false},
             "axis": {"orient": "left", "labels": false, "title": null, "values": [0, 0.167, 0.333, 0.5, 0.667, 0.833, 1], "tickSize": 3, "tickWidth": 1, "domainWidth": 1, "domainColor": "#444", "tickColor": "#666"}}
      }},
     {"data": {"values": [
        {"m": 727.06, "i": 0.758, "m2": 730.15, "i2": 0.68},
        {"m": 725.13, "i": 0.5, "m2": 728.6, "i2": 0.366},
        {"m": 724.09, "i": 0.308, "m2": 726.85, "i2": 0.242},
        {"m": 732.89, "i": 0.845, "m2": 734.93, "i2": 0.903},
        {"m": 733.55, "i": 0.366, "m2": 735.2, "i2": 0.481},
        {"m": 699.5, "i": 1.04, "m2": 710.9, "i2": 1.04},
        {"m": 725.4, "i": 1.04, "m2": 736.6, "i2": 1.04}
      ]},
      "mark": {"type": "rule", "strokeWidth": 1.5, "color": "#111"},
      "encoding": {"x": {"field": "m", "type": "quantitative"}, "x2": {"field": "m2"}, "y": {"field": "i", "type": "quantitative"}, "y2": {"field": "i2"}}},
     {"data": {"values": [
        {"m": 727.5, "i": 0.82, "lab": "D₂₆-D₂₆"},
        {"m": 724.87, "i": 0.577, "lab": "D₂₅-D₂₆"},
        {"m": 723.93, "i": 0.288, "lab": "D₂₅-D₂₅"}
      ]},
      "mark": {"type": "text", "align": "right", "baseline": "middle", "font": "Noto Sans", "fontWeight": "normal", "fontSize": 15, "color": "#111"},
      "encoding": {"x": {"field": "m", "type": "quantitative"}, "y": {"field": "i", "type": "quantitative"}, "text": {"field": "lab"}}},
     {"data": {"values": [
        {"m": 736.3, "i": 0.885, "lab": "D₂₆-D₂₇"},
        {"m": 736.2, "i": 0.557, "lab": "D₂₇-D₂₇"}
      ]},
      "mark": {"type": "text", "align": "left", "baseline": "middle", "font": "Noto Sans", "fontWeight": "normal", "fontSize": 15, "color": "#111"},
      "encoding": {"x": {"field": "m", "type": "quantitative"}, "y": {"field": "i", "type": "quantitative"}, "text": {"field": "lab"}}},
     {"data": {"name": "one"},
      "mark": {"type": "text", "align": "center", "baseline": "middle", "fontSize": 15, "color": "#111"},
      "encoding": {"x": {"datum": 704.5}, "y": {"datum": 1.176}, "text": {"value": "14:0-14:0d-PC"}}},
     {"data": {"name": "one"},
      "mark": {"type": "text", "align": "center", "baseline": "middle", "fontSize": 15, "color": "#111"},
      "encoding": {"x": {"datum": 731.0}, "y": {"datum": 1.176}, "text": {"value": "14:0d-14:0d-PC"}}},
     {"data": {"name": "one"},
      "mark": {"type": "text", "align": "center", "baseline": "middle", "fontSize": 15, "color": "#111"},
      "encoding": {"x": {"datum": 705.0}, "y": {"datum": 0.845}, "text": {"value": "Intensity x 4"}}},
     {"data": {"name": "one"},
      "mark": {"type": "text", "align": "right", "baseline": "middle", "fontSize": 15, "color": "#111"},
      "encoding": {"x": {"datum": 750.8}, "y": {"datum": 0.058}, "text": {"value": "None"}}},
     {"data": {"name": "one"},
      "mark": {"type": "text", "align": "left", "baseline": "alphabetic", "dx": -20, "dy": -21, "fontSize": 27, "color": "#595959"},
      "encoding": {"x": {"datum": 690.6}, "y": {"datum": 1}, "text": {"value": "f"}}}
    ]
   },
   {
    "layer": [
     {"data": {"name": "fB"},
      "mark": {"type": "line", "color": "#707070", "strokeWidth": 1},
      "encoding": {
       "x": {"field": "m", "type": "quantitative", "scale": {"domain": [690.6, 749.6], "nice": false, "zero": false},
             "axis": {"orient": "bottom", "values": [700, 720, 740], "title": "m/z", "titleFontStyle": "italic", "titlePadding": 2, "labelPadding": 4, "tickSize": 3, "tickWidth": 1, "domainWidth": 1, "domainColor": "#444", "tickColor": "#666"}},
       "y": {"field": "i", "type": "quantitative", "scale": {"domain": [0, 1], "range": [194, 108], "nice": false},
             "axis": {"orient": "left", "labels": false, "title": "Intensity", "titleX": -9, "titleY": 94.7, "values": [0, 0.167, 0.333, 0.5, 0.667, 0.833, 1], "tickSize": 3, "tickWidth": 1, "domainWidth": 1, "domainColor": "#444", "tickColor": "#666"}}
      }},
     {"data": {"values": [
        {"m": 702.85, "i": 0.35, "m2": 704.5, "i2": 0.226},
        {"m": 707.43, "i": 0.233, "m2": 709.36, "i2": 0.362}
      ]},
      "mark": {"type": "rule", "strokeWidth": 1.5, "color": "#111"},
      "encoding": {"x": {"field": "m", "type": "quantitative"}, "x2": {"field": "m2"}, "y": {"field": "i", "type": "quantitative"}, "y2": {"field": "i2"}}},
     {"data": {"name": "one"},
      "mark": {"type": "text", "align": "right", "baseline": "middle", "font": "Noto Sans", "fontWeight": "normal", "fontSize": 15, "color": "#111"},
      "encoding": {"x": {"datum": 701.93}, "y": {"datum": 0.44}, "text": {"value": "D₀-D₂₆"}}},
     {"data": {"name": "one"},
      "mark": {"type": "text", "align": "left", "baseline": "middle", "font": "Noto Sans", "fontWeight": "normal", "fontSize": 15, "color": "#111"},
      "encoding": {"x": {"datum": 706.49}, "y": {"datum": 0.595}, "text": {"value": "D₀-D₂₇"}}},
     {"data": {"name": "one"},
      "mark": {"type": "text", "align": "right", "baseline": "middle", "fontSize": 15, "color": "#111"},
      "encoding": {"x": {"datum": 750.6}, "y": {"datum": 0.1}, "text": {"value": "dTAZ"}}}
    ]
   },
   {
    "data": {"name": "one"},
    "mark": {"type": "text", "text": ""},
    "encoding": {
     "x": {"datum": 720, "type": "quantitative",
           "axis": {"orient": "bottom", "values": [692, 694, 696, 698, 702, 704, 706, 708, 710, 712, 714, 716, 718, 722, 724, 726, 728, 730, 732, 734, 736, 738, 742, 744, 746, 748], "labels": false, "domain": false, "title": null, "tickSize": 3, "tickWidth": 1, "tickColor": "#666"}}
    }
   }
  ],
  "resolve": {"scale": {"y": "independent"}, "axis": {"x": "independent", "y": "independent"}}
 }
]
}
